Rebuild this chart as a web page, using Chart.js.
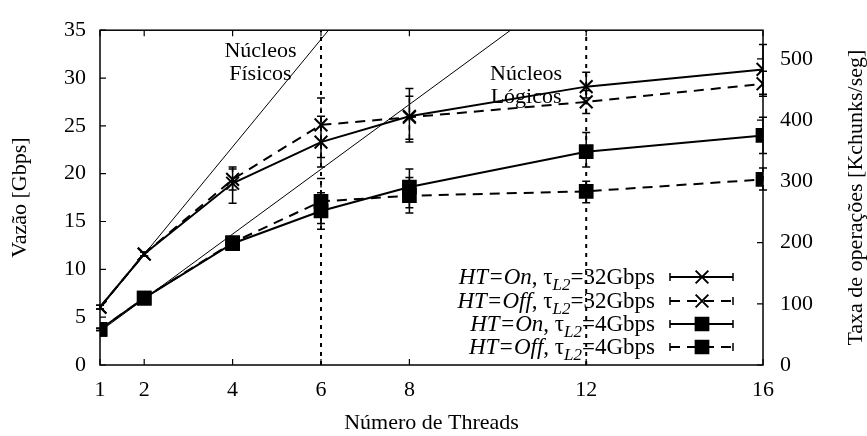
<!DOCTYPE html>
<html><head><meta charset="utf-8">
<script src="https://cdn.jsdelivr.net/npm/chart.js@4/dist/chart.umd.min.js"></script>
<style>html,body{margin:0;padding:0;background:#fff}canvas{display:block}</style>
</head><body>
<canvas id="c" width="867" height="436"></canvas>
<script>
// ---- data ----
const threads = [1, 2, 4, 6, 8, 12, 16];
const xTicks = [1, 2, 4, 6, 8, 12, 16];
const yTicks = [0, 5, 10, 15, 20, 25, 30, 35];
const y2Ticks = [0, 100, 200, 300, 400, 500];
const onFast = [6.05, 11.6, 19.0, 23.3, 26.0, 29.1, 30.9];
const onFastLow = [5.85, 11.4, 16.9, 20.7, 23.3, 27.9, 28.3];
const onFastHigh = [6.25, 11.8, 20.7, 26.0, 28.9, 30.6, 33.5];
const offFast = [6.05, 11.6, 19.4, 25.1, 25.9, 27.5, 29.4];
const offFastLow = [5.85, 11.4, 18.3, 21.7, 23.6, 26.3, 28.1];
const offFastHigh = [6.25, 11.8, 20.5, 27.9, 28.1, 28.7, 30.7];
const onSlow = [3.72, 7.0, 12.7, 16.1, 18.6, 22.3, 24.0];
const onSlowLow = [3.6, 6.85, 12.3, 14.2, 15.9, 20.7, 22.1];
const onSlowHigh = [3.85, 7.15, 13.1, 18.0, 20.5, 24.3, 25.9];
const offSlow = [3.72, 7.0, 12.8, 17.1, 17.7, 18.15, 19.4];
const offSlowLow = [3.6, 6.85, 12.4, 14.8, 16.45, 16.95, 18.3];
const offSlowHigh = [3.85, 7.15, 13.2, 19.5, 19.6, 19.2, 20.6];
const physThreads = [1, 6.17];
const physGbps = [5.95, 35];
const logThreads = [1, 10.29];
const logGbps = [3.52, 35];
const coreThreads = [6, 12];
const gbpsRange = [0, 35];
const kchunksMax = 546.875;
const legendHT = ['On', 'Off', 'On', 'Off'];
const legendRate = ['32Gbps', '32Gbps', '4Gbps', '4Gbps'];
const noteLines = [['Núcleos', 'Físicos'], ['Núcleos', 'Lógicos']];
const noteX = [4.63, 10.64];
const noteY = [32.8, 30.4];

// ---- chart ----
const FAM = "'Liberation Serif', 'Times New Roman', serif";
const F22 = {family: FAM, size: 22};
const pts = (xs, ys) => xs.map((x, i) => ({x: x, y: ys[i]}));
const DASH = [10, 7];

const series = [
  {data: onFast, low: onFastLow, high: onFastHigh, dash: [], style: 'crossRot'},
  {data: offFast, low: offFastLow, high: offFastHigh, dash: DASH, style: 'crossRot'},
  {data: onSlow, low: onSlowLow, high: onSlowHigh, dash: [], style: 'rect'},
  {data: offSlow, low: offSlowLow, high: offSlowHigh, dash: DASH, style: 'rect'}
];

const datasets = series.map(s => ({
  data: pts(threads, s.data), borderColor: '#000', backgroundColor: '#000',
  borderWidth: 2, borderDash: s.dash, pointStyle: s.style, pointRadius: 9,
  pointBorderWidth: 2, pointBackgroundColor: '#000', pointBorderColor: '#000',
  tension: 0, yAxisID: 'y', fill: false
}));
datasets.push({data: pts(physThreads, physGbps), borderColor: '#000', borderWidth: 1, pointRadius: 0, yAxisID: 'y'});
datasets.push({data: pts(logThreads, logGbps), borderColor: '#000', borderWidth: 1, pointRadius: 0, yAxisID: 'y'});
coreThreads.forEach(t => datasets.push({
  data: pts([t, t], gbpsRange), borderColor: '#000', borderWidth: 2, borderDash: [4, 5],
  pointRadius: 0, yAxisID: 'y'
}));

const decor = {
  id: 'decor',
  afterDatasetsDraw(chart) {
    const ctx = chart.ctx, xs = chart.scales.x, ys = chart.scales.y;
    ctx.save();
    ctx.strokeStyle = '#000';
    series.forEach(s => {
      ctx.lineWidth = 1.5;
      threads.forEach((t, i) => {
        const px = xs.getPixelForValue(t);
        const y1 = ys.getPixelForValue(s.low[i]), y2 = ys.getPixelForValue(s.high[i]);
        ctx.setLineDash(s.dash.length ? [5, 4] : []);
        ctx.beginPath(); ctx.moveTo(px, y1); ctx.lineTo(px, y2); ctx.stroke();
        ctx.setLineDash([]);
        ctx.beginPath();
        ctx.moveTo(px - 4, y1); ctx.lineTo(px + 4, y1);
        ctx.moveTo(px - 4, y2); ctx.lineTo(px + 4, y2);
        ctx.stroke();
      });
    });
    ctx.restore();
  },
  afterDraw(chart) {
    const ctx = chart.ctx, a = chart.chartArea;
    const xs = chart.scales.x, ys = chart.scales.y, y2s = chart.scales.y2;
    ctx.save();
    ctx.strokeStyle = '#000'; ctx.fillStyle = '#000';
    ctx.setLineDash([]);
    ctx.lineWidth = 1.5;
    ctx.strokeRect(a.left, a.top, a.right - a.left, a.bottom - a.top);
    ctx.lineWidth = 1.2;
    ctx.beginPath();
    xTicks.forEach(v => {
      const p = xs.getPixelForValue(v);
      ctx.moveTo(p, a.bottom); ctx.lineTo(p, a.bottom - 6);
      ctx.moveTo(p, a.top); ctx.lineTo(p, a.top + 6);
    });
    yTicks.forEach(v => {
      const p = ys.getPixelForValue(v);
      ctx.moveTo(a.left, p); ctx.lineTo(a.left + 6, p);
    });
    y2Ticks.forEach(v => {
      const p = y2s.getPixelForValue(v);
      ctx.moveTo(a.right, p); ctx.lineTo(a.right - 6, p);
    });
    ctx.stroke();

    // right axis title
    ctx.font = "22px " + FAM;
    ctx.textAlign = 'center'; ctx.textBaseline = 'middle';
    ctx.save();
    ctx.translate(a.right + 93, (a.top + a.bottom) / 2);
    ctx.rotate(-Math.PI / 2);
    ctx.fillText('Taxa de operações [Kchunks/seg]', 0, 0);
    ctx.restore();

    // notes
    noteLines.forEach((lines, k) => {
      const px = xs.getPixelForValue(noteX[k]);
      const py = ys.getPixelForValue(noteY[k]);
      lines.forEach((l, j) => ctx.fillText(l, px, py + j * 23));
    });

    // legend
    ctx.textAlign = 'left'; ctx.textBaseline = 'alphabetic';
    const rowOff = [88, 64, 41, 18];
    legendHT.forEach((ht, i) => {
      const cy = a.bottom - rowOff[i];
      const parts = [
        {t: 'HT=' + ht, it: true}, {t: ', τ'}, {t: 'L2', it: true, sub: true}, {t: '=' + legendRate[i]}
      ];
      const fontOf = p => (p.it ? 'italic ' : '') + (p.sub ? 17 : 23) + 'px ' + FAM;
      const w = parts.map(p => { ctx.font = fontOf(p); return ctx.measureText(p.t).width; });
      let x = a.right - 108 - w.reduce((s, v) => s + v, 0);
      parts.forEach((p, j) => {
        ctx.font = fontOf(p);
        ctx.fillText(p.t, x, cy + 7 + (p.sub ? 6 : 0));
        x += w[j];
      });
      const s = series[i];
      const x0 = a.right - 93, x1 = a.right - 30, xm = a.right - 61;
      ctx.lineWidth = 2;
      ctx.setLineDash(s.dash);
      ctx.beginPath(); ctx.moveTo(x0, cy); ctx.lineTo(x1, cy); ctx.stroke();
      ctx.setLineDash([]);
      ctx.lineWidth = 1.5;
      ctx.beginPath();
      ctx.moveTo(x0, cy - 4); ctx.lineTo(x0, cy + 4);
      ctx.moveTo(x1, cy - 4); ctx.lineTo(x1, cy + 4);
      ctx.stroke();
      ctx.lineWidth = 2;
      Chart.helpers.drawPoint(ctx, {pointStyle: s.style, radius: 9, rotation: 0, borderWidth: 2}, xm, cy);
    });
    ctx.restore();
  }
};

new Chart(document.getElementById('c'), {
  type: 'line',
  data: {datasets: datasets},
  options: {
    responsive: false, animation: false, devicePixelRatio: 1,
    layout: {padding: {top: 14, left: 0, right: 0, bottom: 0}},
    plugins: {legend: {display: false}, tooltip: {enabled: false}},
    scales: {
      x: {
        type: 'linear', position: 'bottom', min: 1, max: 16,
        afterBuildTicks: s => { s.ticks = xTicks.map(v => ({value: v})); },
        grid: {display: false, drawTicks: false}, border: {display: false},
        ticks: {font: F22, color: '#000', padding: 12, autoSkip: false, maxRotation: 0},
        title: {display: true, text: 'Número de Threads', font: F22, color: '#000', padding: {top: 0, bottom: 0}},
        afterFit: s => { s.height = 71; }
      },
      y: {
        type: 'linear', position: 'left', min: 0, max: 35,
        afterBuildTicks: s => { s.ticks = yTicks.map(v => ({value: v})); },
        grid: {display: false, drawTicks: false}, border: {display: false},
        ticks: {font: F22, color: '#000', padding: 14},
        title: {display: true, text: 'Vazão [Gbps]', font: F22, color: '#000', padding: {top: 7, bottom: 0}},
        afterFit: s => { s.width = 100; }
      },
      y2: {
        type: 'linear', position: 'right', min: 0, max: kchunksMax,
        afterBuildTicks: s => { s.ticks = y2Ticks.map(v => ({value: v})); },
        grid: {display: false, drawTicks: false}, border: {display: false},
        ticks: {font: F22, color: '#000', padding: 17},
        title: {display: false},
        afterFit: s => { s.width = 104; }
      }
    }
  },
  plugins: [decor]
});
</script>
</body></html>
